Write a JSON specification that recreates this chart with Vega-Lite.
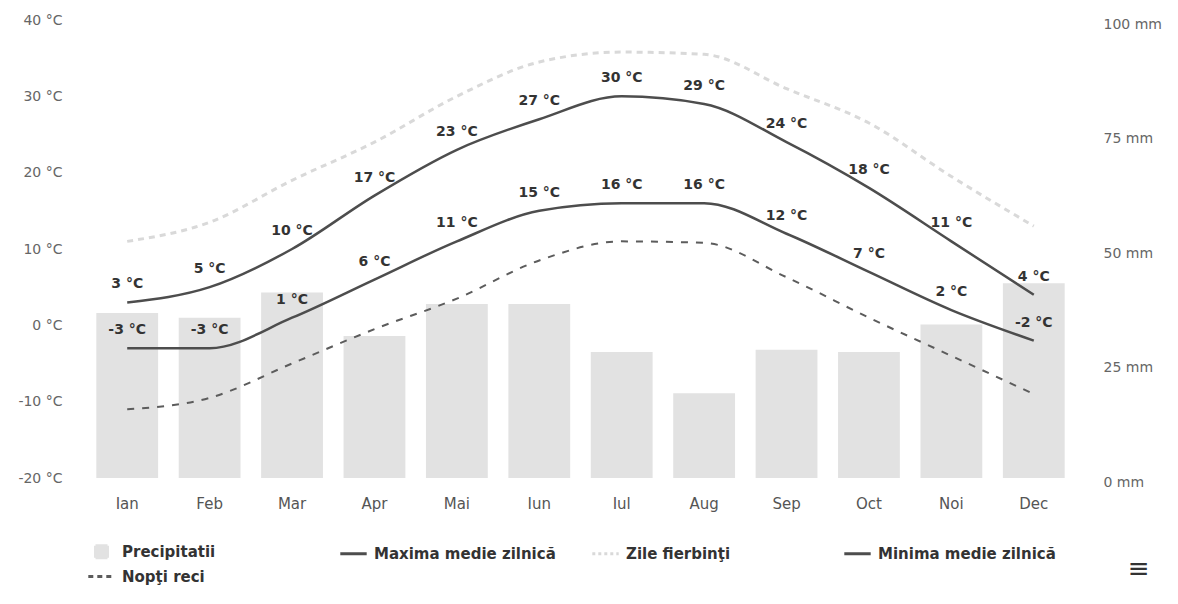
{
  "$schema": "https://vega.github.io/schema/vega-lite/v6.json",
  "width": 989,
  "height": 458,
  "autosize": {"type": "none"},
  "padding": {"left": 86, "top": 20, "right": 103, "bottom": 126},
  "background": "white",
  "config": {"view": {"stroke": null}, "font": "DejaVu Sans"},
  "title": {"text": "≡", "orient": "bottom", "anchor": "end", "frame": "bounds", "fontSize": 26, "fontWeight": "normal", "color": "#333", "offset": 5, "dy": -34, "dx": -12},
  "data": {
    "values": [
      {"m": "Ian", "p": 36, "max": 3, "min": -3, "hot": 11, "cold": -11},
      {"m": "Feb", "p": 35, "max": 5, "min": -3, "hot": 13.5, "cold": -9.5},
      {"m": "Mar", "p": 40.5, "max": 10, "min": 1, "hot": 19, "cold": -5},
      {"m": "Apr", "p": 31, "max": 17, "min": 6, "hot": 24, "cold": -0.5},
      {"m": "Mai", "p": 38, "max": 23, "min": 11, "hot": 30, "cold": 3.5},
      {"m": "Iun", "p": 38, "max": 27, "min": 15, "hot": 34.5, "cold": 8.5},
      {"m": "Iul", "p": 27.5, "max": 30, "min": 16, "hot": 35.8, "cold": 11},
      {"m": "Aug", "p": 18.5, "max": 29, "min": 16, "hot": 35.5, "cold": 10.8},
      {"m": "Sep", "p": 28, "max": 24, "min": 12, "hot": 31, "cold": 6.3},
      {"m": "Oct", "p": 27.5, "max": 18, "min": 7, "hot": 26.5, "cold": 1},
      {"m": "Noi", "p": 33.5, "max": 11, "min": 2, "hot": 19.5, "cold": -4},
      {"m": "Dec", "p": 42.5, "max": 4, "min": -2, "hot": 13, "cold": -9}
    ]
  },
  "encoding": {
    "x": {
      "field": "m", "type": "ordinal", "sort": null,
      "scale": {"paddingInner": 0.25, "paddingOuter": 0.125},
      "axis": {"title": null, "domain": false, "ticks": false, "labelAngle": 0, "labelFontSize": 15, "labelColor": "#555", "labelPadding": 18}
    }
  },
  "layer": [
    {
      "mark": {"type": "bar"},
      "encoding": {
        "y": {
          "field": "p", "type": "quantitative",
          "scale": {"domain": [0, 100], "nice": false},
          "axis": {"orient": "right", "title": null, "domain": false, "ticks": false, "grid": false, "values": [0, 25, 50, 75, 100], "labelExpr": "datum.value + ' mm'", "labelFontSize": 14, "labelColor": "#666", "labelPadding": 28, "labelOffset": 4}
        },
        "color": {
          "datum": "Precipitatii",
          "scale": {
            "domain": ["Precipitatii", "Maxima medie zilnică", "Zile fierbinţi", "Minima medie zilnică", "Nopţi reci"],
            "range": ["#e2e2e2", "#4d4d4d", "#d9d9d9", "#4d4d4d", "#5c5c5c"]
          },
          "legend": {
            "title": null,
            "orient": "none",
            "direction": "horizontal",
            "legendX": 3,
            "legendY": 519,
            "columns": 4,
            "gridAlign": "all",
            "columnPadding": 30,
            "rowPadding": 0,
            "symbolSize": 484,
            "labelOffset": 8,
            "labelLimit": 300,
            "labelFontSize": 15,
            "labelFontWeight": "bold",
            "labelColor": "#333",
            "labelExpr": "['Precipitatii', 'Maxima medie zilnică', 'Zile fierbinţi', 'Minima medie zilnică', 'Nopţi reci'][datum.index]",
            "encode": {
              "symbols": {
                "update": {
                  "shape": {"signal": "datum.index === 0 ? 'square' : 'M-1.2,0H1.2'"},
                  "size": {"signal": "datum.index === 0 ? 144 : 484"},
                  "fill": {"signal": "datum.index === 0 ? '#e2e2e2' : 'transparent'"},
                  "stroke": {"signal": "datum.index === 0 ? 'transparent' : datum.index === 2 ? '#d9d9d9' : datum.index === 4 ? '#8a8a8a' : '#2e2e2e'"},
                  "strokeWidth": {"value": 3},
                  "strokeDash": {"signal": "datum.index === 4 ? [5, 4] : datum.index === 2 ? [3, 3] : [1, 0]"},
                  "opacity": {"value": 1}
                }
              }
            }
          }
        }
      }
    },
    {
      "layer": [
        {
          "mark": {"type": "line", "interpolate": "monotone", "strokeWidth": 2.5},
          "encoding": {
            "y": {
              "field": "max", "type": "quantitative",
              "scale": {"domain": [-20, 40], "nice": false},
              "axis": {"title": null, "domain": false, "ticks": false, "grid": false, "values": [-20, -10, 0, 10, 20, 30, 40], "labelExpr": "datum.value + ' °C'", "labelFontSize": 14, "labelColor": "#666", "labelPadding": 24}
            },
            "color": {"datum": "Maxima medie zilnică"}
          }
        },
        {
          "mark": {"type": "line", "interpolate": "monotone", "strokeWidth": 3, "strokeDash": [6, 5]},
          "encoding": {
            "y": {"field": "hot", "type": "quantitative", "axis": {"title": null, "domain": false, "ticks": false, "grid": false, "values": [-20, -10, 0, 10, 20, 30, 40], "labelExpr": "datum.value + ' °C'", "labelFontSize": 14, "labelColor": "#666", "labelPadding": 24}},
            "color": {"datum": "Zile fierbinţi"}
          }
        },
        {
          "mark": {"type": "line", "interpolate": "monotone", "strokeWidth": 2.5},
          "encoding": {
            "y": {"field": "min", "type": "quantitative", "axis": {"title": null, "domain": false, "ticks": false, "grid": false, "values": [-20, -10, 0, 10, 20, 30, 40], "labelExpr": "datum.value + ' °C'", "labelFontSize": 14, "labelColor": "#666", "labelPadding": 24}},
            "color": {"datum": "Minima medie zilnică"}
          }
        },
        {
          "mark": {"type": "line", "interpolate": "monotone", "strokeWidth": 2, "strokeDash": [7, 8]},
          "encoding": {
            "y": {"field": "cold", "type": "quantitative", "axis": {"title": null, "domain": false, "ticks": false, "grid": false, "values": [-20, -10, 0, 10, 20, 30, 40], "labelExpr": "datum.value + ' °C'", "labelFontSize": 14, "labelColor": "#666", "labelPadding": 24}},
            "color": {"datum": "Nopţi reci"}
          }
        },
        {
          "mark": {"type": "text", "dy": -18, "fontSize": 14, "fontWeight": "bold", "color": "#333", "text": {"expr": "datum.max + ' °C'"}},
          "encoding": {
            "y": {"field": "max", "type": "quantitative", "axis": {"title": null, "domain": false, "ticks": false, "grid": false, "values": [-20, -10, 0, 10, 20, 30, 40], "labelExpr": "datum.value + ' °C'", "labelFontSize": 14, "labelColor": "#666", "labelPadding": 24}}
          }
        },
        {
          "mark": {"type": "text", "dy": -18, "fontSize": 14, "fontWeight": "bold", "color": "#333", "text": {"expr": "datum.min + ' °C'"}},
          "encoding": {
            "y": {"field": "min", "type": "quantitative", "axis": {"title": null, "domain": false, "ticks": false, "grid": false, "values": [-20, -10, 0, 10, 20, 30, 40], "labelExpr": "datum.value + ' °C'", "labelFontSize": 14, "labelColor": "#666", "labelPadding": 24}}
          }
        }
      ]
    }
  ],
  "resolve": {"scale": {"y": "independent"}}
}
